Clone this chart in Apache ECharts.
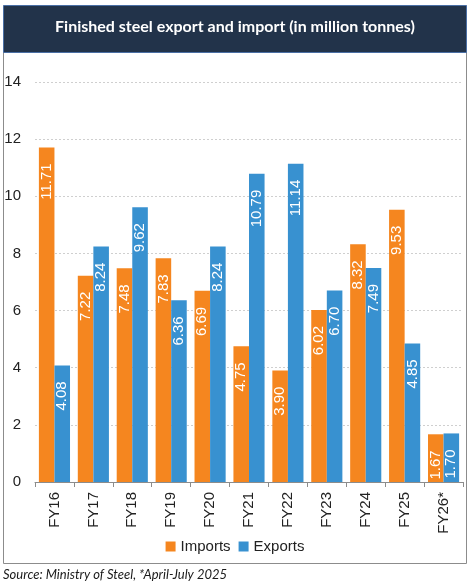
<!DOCTYPE html>
<html>
<head>
<meta charset="utf-8">
<script src="https://cdn.jsdelivr.net/npm/echarts@6/dist/echarts.min.js"></script>
<style>
  html, body { margin: 0; padding: 0; background: #fff; }
  #chart { width: 470px; height: 587px; }
</style>
</head>
<body>
<div id="chart"></div>
<script>
// data
var years = ['FY16', 'FY17', 'FY18', 'FY19', 'FY20', 'FY21', 'FY22', 'FY23', 'FY24', 'FY25', 'FY26*']
var imports = [11.71, 7.22, 7.48, 7.83, 6.69, 4.75, 3.90, 6.02, 8.32, 9.53, 1.67]
var exports = [4.08, 8.24, 9.62, 6.36, 8.24, 10.79, 11.14, 6.70, 7.49, 4.85, 1.70]
var yTicks = [0, 2, 4, 6, 8, 10, 12, 14]

var orange = '#F5861F'
var blue = '#3891D0'

var chart = echarts.init(document.getElementById('chart'))

// label rotated inside the top of each bar
// (offset works in the rotated frame, so a negative x pushes it down)
function barLabel() {
  return {
    show: true,
    position: 'insideTop',
    rotate: 90,
    align: 'right',
    verticalAlign: 'middle',
    distance: 9,
    offset: [-7, 0],
    color: '#fff',
    fontFamily: 'Liberation Sans, Arial',
    fontSize: 15,
    formatter: function (p) { return p.value.toFixed(2) }
  }
}

var option = {
  animation: false,
  graphic: [
    { type: 'rect', shape: { x: 3.5, y: 52.5, width: 463, height: 511 },
      style: { fill: '#fff', stroke: '#8c8c8c', lineWidth: 1 }, z: -10 },
    { type: 'rect', shape: { x: 3.5, y: 5.5, width: 463, height: 47 },
      style: { fill: '#22334A', stroke: '#4A6FA5', lineWidth: 1 }, z: 10 },
    { type: 'text', left: 'center', top: 19, z: 11,
      style: { text: 'Finished steel export and import (in million tonnes)', fill: '#fff',
        font: 'bold 16px Lato, "Open Sans", sans-serif' } },
    { type: 'text', left: 3, top: 568,
      style: { text: 'Source: Ministry of Steel, *April-July 2025', fill: '#1a1a1a',
        font: 'italic 13px Lato, "Open Sans", sans-serif' } }
  ],
  legend: {
    bottom: 28,
    left: 'center',
    itemWidth: 10,
    itemHeight: 10,
    itemGap: 8,
    icon: 'rect',
    textStyle: { fontFamily: 'Liberation Sans, Arial', fontSize: 15, color: '#222' },
    data: ['Imports', 'Exports']
  },
  grid: { left: 35, right: 7, top: 82, bottom: 105 },
  xAxis: {
    type: 'category',
    data: years,
    axisLine: { lineStyle: { color: '#8c8c8c' } },
    axisTick: { show: true, length: 5, lineStyle: { color: '#8c8c8c' } },
    axisLabel: { rotate: 90, margin: 10, color: '#222', fontFamily: 'Liberation Sans, Arial', fontSize: 15 }
  },
  yAxis: {
    type: 'value',
    min: yTicks[0],
    max: yTicks[yTicks.length - 1],
    interval: 2,
    axisLine: { show: false },
    axisTick: { show: false },
    axisLabel: { margin: 14, color: '#222', fontFamily: 'Liberation Sans, Arial', fontSize: 15 },
    splitLine: { lineStyle: { color: '#cfcfcf', type: [2, 2] } }
  },
  series: [
    { name: 'Imports', type: 'bar', data: imports, itemStyle: { color: orange },
      barGap: '0%', barCategoryGap: '20%', label: barLabel() },
    { name: 'Exports', type: 'bar', data: exports, itemStyle: { color: blue },
      label: barLabel() }
  ]
}

chart.setOption(option)
</script>
</body>
</html>
